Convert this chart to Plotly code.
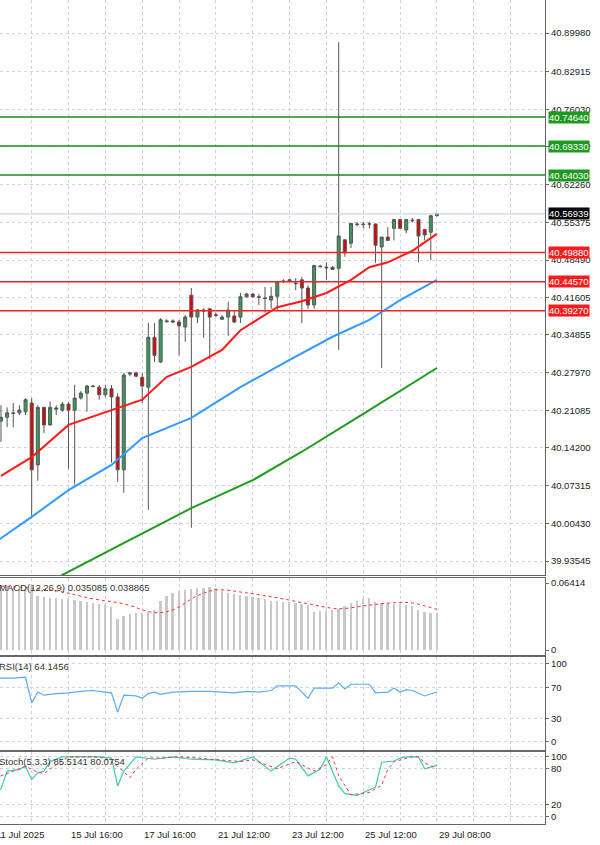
import plotly.graph_objects as go

# ---------------- data ----------------
opens = [40.191,40.198,40.206,40.206,40.208,40.224,40.111,40.216,40.184,40.215,40.211,40.222,40.211,40.233,40.242,40.255,
         40.253,40.239,40.250,40.235,40.102,40.277,40.279,40.271,40.253,40.344,40.299,40.374,40.374,40.372,40.363,40.421,
         40.381,40.394,40.396,40.385,40.377,40.381,40.383,40.381,40.418,40.423,40.418,40.416,40.412,40.419,40.447,40.447,
         40.443,40.449,40.434,40.403,40.474,40.472,40.472,40.470,40.522,40.516,40.551,40.551,40.551,40.551,40.509,40.527,
         40.543,40.559,40.540,40.558,40.559,40.541,40.536,40.566]
highs = [40.220,40.216,40.224,40.220,40.233,40.233,40.220,40.217,40.227,40.220,40.226,40.226,40.257,40.246,40.257,40.257,
         40.257,40.257,40.257,40.242,40.279,40.281,40.281,40.279,40.370,40.370,40.379,40.377,40.377,40.376,40.385,40.434,
         40.396,40.397,40.397,40.389,40.385,40.409,40.394,40.425,40.425,40.425,40.423,40.436,40.436,40.447,40.450,40.450,
         40.452,40.454,40.439,40.476,40.476,40.481,40.474,40.883,40.523,40.553,40.555,40.555,40.555,40.552,40.527,40.545,
         40.560,40.560,40.560,40.562,40.560,40.542,40.568,40.570]
lows = [40.153,40.180,40.180,40.202,40.202,40.018,40.082,40.169,40.183,40.202,40.208,40.104,40.075,40.230,40.208,40.253,
        40.230,40.235,40.115,40.080,40.060,40.273,40.271,40.224,40.029,40.299,40.297,40.370,40.370,40.311,40.336,39.996,
        40.370,40.343,40.304,40.381,40.376,40.347,40.370,40.370,40.416,40.416,40.403,40.389,40.396,40.394,40.443,40.445,
        40.430,40.370,40.396,40.396,40.472,40.449,40.467,40.321,40.491,40.507,40.547,40.543,40.543,40.480,40.288,40.522,
        40.521,40.543,40.534,40.554,40.481,40.521,40.485,40.566]
closes = [40.198,40.206,40.205,40.211,40.230,40.102,40.216,40.184,40.216,40.213,40.222,40.211,40.233,40.242,40.255,40.254,
          40.239,40.250,40.235,40.102,40.275,40.279,40.273,40.255,40.344,40.311,40.376,40.373,40.372,40.365,40.381,40.381,
          40.394,40.392,40.381,40.384,40.381,40.394,40.372,40.418,40.423,40.418,40.417,40.415,40.419,40.446,40.446,40.449,
          40.442,40.434,40.403,40.475,40.473,40.471,40.468,40.529,40.498,40.552,40.550,40.550,40.551,40.512,40.527,40.521,
          40.559,40.543,40.559,40.557,40.529,40.531,40.566,40.56939]
bars = list(range(len(closes)))

ma_red_x = [0,5,11,18,23,27,31,36,39,45,49,53,57,60,63,67,69,71]
ma_red = [40.091,40.125,40.184,40.211,40.230,40.272,40.290,40.321,40.357,40.399,40.410,40.425,40.449,40.472,40.481,40.502,40.518,40.533]
ma_blue_x = [-1,0,5,11,18,23,31,39,47,54,60,65,71]
ma_blue = [39.970,39.977,40.016,40.065,40.111,40.160,40.197,40.253,40.303,40.345,40.376,40.412,40.449]
ma_green_x = [8,10,21,31,41,49,59,68,71]
ma_green = [39.895,39.910,39.974,40.032,40.083,40.135,40.204,40.266,40.288]

green_levels = [40.74640, 40.69330, 40.64030]
red_levels = [40.49880, 40.44570, 40.39270]
last_price = 40.56939
price_ticks = [40.89980,40.82915,40.76030,40.69330,40.62260,40.55375,40.48490,40.41605,40.34855,40.27970,
               40.21085,40.14200,40.07315,40.00430,39.93545]

macd_hist = [0.060,0.060,0.059,0.059,0.058,0.058,0.052,0.051,0.050,0.050,0.049,0.049,0.048,0.047,0.046,0.045,
             0.044,0.043,0.041,0.030,0.033,0.034,0.035,0.035,0.036,0.038,0.047,0.052,0.055,0.056,0.057,0.058,
             0.059,0.059,0.060,0.059,0.056,0.055,0.054,0.053,0.052,0.051,0.050,0.049,0.047,0.047,0.046,0.046,
             0.045,0.044,0.043,0.036,0.037,0.037,0.038,0.039,0.042,0.045,0.047,0.049,0.050,0.046,0.045,0.045,
             0.044,0.044,0.043,0.042,0.038,0.036,0.035,0.035085]
macd_sig_x = [0,9,15,20,25,28,32,35,40,45,50,55,60,64,67,71]
macd_sig = [0.0613,0.0566,0.0490,0.0443,0.0358,0.0385,0.0520,0.0575,0.0547,0.0500,0.0443,0.0396,0.0430,0.0453,0.0450,0.038865]

rsi_x = [-1,0,2,4,5,6,7,9,11,13,15,17,18,19,20,22,23,24,25,26,28,31,34,36,38,40,42,44,45,48,50,51,54,55,56,57,60,61,63,64,65,66,67,69,71]
rsi = [82,82,82,83,50,64,60,62,63,65,66,64,63,38,60,59,56,62,64,61,64,65,65,64,63,65,64,66,72,72,56,69,69,76,68,74,74,63,64,69,64,67,66,59,64.1456]

stk_x = [-1,0,1,3,4,5,6,7,8,10,12,14,16,18,19,20,22,25,28,31,35,38,41,44,47,48,50,52,53,55,56,58,61,62,64,65,66,68,69,71]
stk = [40,46,76,79,84,62,73,76,92,100,100,100,100,98,51,76,100,96,100,96,95,90,100,76,98,96,68,79,100,51,38,35,49,91,93,98,100,100,80,85.5141]
std_x = [-1,0,4,6,7,9,11,15,17,19,21,22,24,26,29,32,36,39,41,45,48,51,53,54,55,57,60,62,63,64,67,68,69,71]
std = [64,68,84,74,72,87,100,100,98,84,65,79,98,98,100,98,95,92,95,80,92,76,87,100,68,36,40,52,79,92,100,100,90,80.0754]

date_pos = [11, 23, 35, 47, 59, 71]
date_labels = ["15 Jul 16:00", "17 Jul 16:00", "21 Jul 12:00", "23 Jul 12:00", "25 Jul 12:00", "29 Jul 08:00"]
first_date_label = "11 Jul 2025"

# ---------------- figure ----------------
FONT = "Liberation Sans"
fig = go.Figure()
fig.add_trace(go.Candlestick(x=bars, open=opens, high=highs, low=lows, close=closes,
                             increasing=dict(fillcolor="#3a9a5c", line=dict(color="#555555", width=1)),
                             decreasing=dict(fillcolor="#e60000", line=dict(color="#555555", width=1)),
                             whiskerwidth=0, xaxis="x", yaxis="y", showlegend=False, hoverinfo="skip"))
fig.add_trace(go.Scatter(x=ma_green_x, y=ma_green, mode="lines", line=dict(color="#1f9a1f", width=2), xaxis="x", yaxis="y"))
fig.add_trace(go.Scatter(x=ma_blue_x, y=ma_blue, mode="lines", line=dict(color="#3399ff", width=2), xaxis="x", yaxis="y"))
fig.add_trace(go.Scatter(x=ma_red_x, y=ma_red, mode="lines", line=dict(color="#ff1a1a", width=2), xaxis="x", yaxis="y"))

fig.add_trace(go.Bar(x=bars, y=macd_hist, marker=dict(color="#c8c8c8", line=dict(width=0)), width=0.3, xaxis="x2", yaxis="y2"))
fig.add_trace(go.Scatter(x=macd_sig_x, y=macd_sig, mode="lines", line=dict(color="#ff3030", width=1, dash="dot", shape="spline"), xaxis="x2", yaxis="y2"))
fig.add_trace(go.Scatter(x=rsi_x, y=rsi, mode="lines", line=dict(color="#5aa9ff", width=1.2), xaxis="x3", yaxis="y3"))
fig.add_trace(go.Scatter(x=stk_x, y=stk, mode="lines", line=dict(color="#40c8b0", width=1.2), xaxis="x4", yaxis="y4"))
fig.add_trace(go.Scatter(x=std_x, y=std, mode="lines", line=dict(color="#ff3030", width=1, dash="dot"), xaxis="x4", yaxis="y4"))

grid_x = list(range(-1, 90, 6))
xcommon = dict(range=[-0.16, 88.6], tickvals=grid_x, showticklabels=False, showgrid=True,
               gridcolor="#c9d3e6", griddash="dot", gridwidth=1, zeroline=False,
               showline=True, mirror=True, linecolor="#666666", ticks="")
ycommon = dict(side="right", showline=True, mirror=True, linecolor="#666666", ticks="outside", ticklen=3,
               tickcolor="#666666", zeroline=False, tickfont=dict(size=9.5, color="#222222", family=FONT))

fig.update_layout(
    width=600, height=845, paper_bgcolor="white", plot_bgcolor="white", showlegend=False,
    margin=dict(l=0, r=55, t=0, b=21), font=dict(family=FONT, size=10, color="#222"),
    xaxis=dict(**xcommon, anchor="y", rangeslider=dict(visible=False)),
    xaxis2=dict(**xcommon, anchor="y2", matches="x"),
    xaxis3=dict(**xcommon, anchor="y3", matches="x"),
    xaxis4=dict(**xcommon, anchor="y4", matches="x"),
    yaxis=dict(**ycommon, domain=[0.3022, 1], range=[39.9099, 40.9601], tickvals=price_ticks,
               ticktext=[f"{v:.5f}" for v in price_ticks], showgrid=True, gridcolor="#c9d3e6", griddash="dot"),
    yaxis2=dict(**ycommon, domain=[0.2051, 0.2985], range=[-0.0047, 0.0689], tickvals=[0, 0.06414],
                ticktext=["0", "0.06414"], showgrid=False),
    yaxis3=dict(**ycommon, domain=[0.0898, 0.2027], range=[-10.3, 109], tickvals=[0, 30, 70, 100],
                ticktext=["0", "30", "70", "100"], showgrid=True, gridcolor="#c9d3e6", griddash="dot"),
    yaxis4=dict(**ycommon, domain=[0, 0.0874], range=[-13.1, 108.2], tickvals=[0, 20, 80, 100],
                ticktext=["0", "20", "80", "100"], showgrid=True, gridcolor="#c9d3e6", griddash="dot"),
    bargap=0,
)

shapes = []
anns = []
shapes.append(dict(type="line", xref="x domain", yref="y", x0=0, x1=1, y0=last_price, y1=last_price,
                   line=dict(color="#b8cce4", width=1)))
for v in green_levels:
    shapes.append(dict(type="line", xref="x domain", yref="y", x0=0, x1=1, y0=v, y1=v, line=dict(color="#1a8c1a", width=1.5)))
    anns.append(dict(xref="paper", yref="y", x=1, y=v, text=f"{v:.5f}", showarrow=False, xanchor="left", xshift=3,
                     bgcolor="#1f9a1f", font=dict(color="white", size=9.5, family=FONT), borderpad=0))
for v in red_levels:
    shapes.append(dict(type="line", xref="x domain", yref="y", x0=0, x1=1, y0=v, y1=v, line=dict(color="#ff2020", width=1.5)))
    anns.append(dict(xref="paper", yref="y", x=1, y=v, text=f"{v:.5f}", showarrow=False, xanchor="left", xshift=3,
                     bgcolor="#ff1a1a", font=dict(color="white", size=9.5, family=FONT), borderpad=0))
anns.append(dict(xref="paper", yref="y", x=1, y=last_price, text=f"{last_price:.5f}", showarrow=False, xanchor="left",
                 xshift=3, bgcolor="#000000", font=dict(color="white", size=9.5, family=FONT), borderpad=0))

anns.append(dict(xref="paper", yref="y2 domain", x=0, y=1, xshift=-3, yshift=-2, xanchor="left", yanchor="top",
                 text="MACD(12,26,9) 0.035085 0.038865", showarrow=False, font=dict(size=9.5, color="#333", family=FONT)))
anns.append(dict(xref="paper", yref="y3 domain", x=0, y=1, xshift=-3, yshift=-2, xanchor="left", yanchor="top",
                 text="RSI(14) 64.1456", showarrow=False, font=dict(size=9.5, color="#333", family=FONT)))
anns.append(dict(xref="paper", yref="y4 domain", x=0, y=1, xshift=-3, yshift=-2, xanchor="left", yanchor="top",
                 text="Stoch(5,3,3) 85.5141 80.0754", showarrow=False, font=dict(size=9.5, color="#333", family=FONT)))
for p, t in zip(date_pos, date_labels):
    anns.append(dict(xref="x", yref="paper", x=p, y=0, yshift=-3, xanchor="left", yanchor="top", text=t,
                     showarrow=False, font=dict(size=9.5, color="#222", family=FONT)))
anns.append(dict(xref="paper", yref="paper", x=0, y=0, xshift=-6, yshift=-3, xanchor="left", yanchor="top",
                 text=first_date_label, showarrow=False, font=dict(size=9.5, color="#222", family=FONT)))

fig.update_layout(shapes=shapes, annotations=anns)
fig.write_html("out.html", config={"displayModeBar": False},
               post_script="document.body.style.margin='0px';document.body.style.overflow='hidden';")
